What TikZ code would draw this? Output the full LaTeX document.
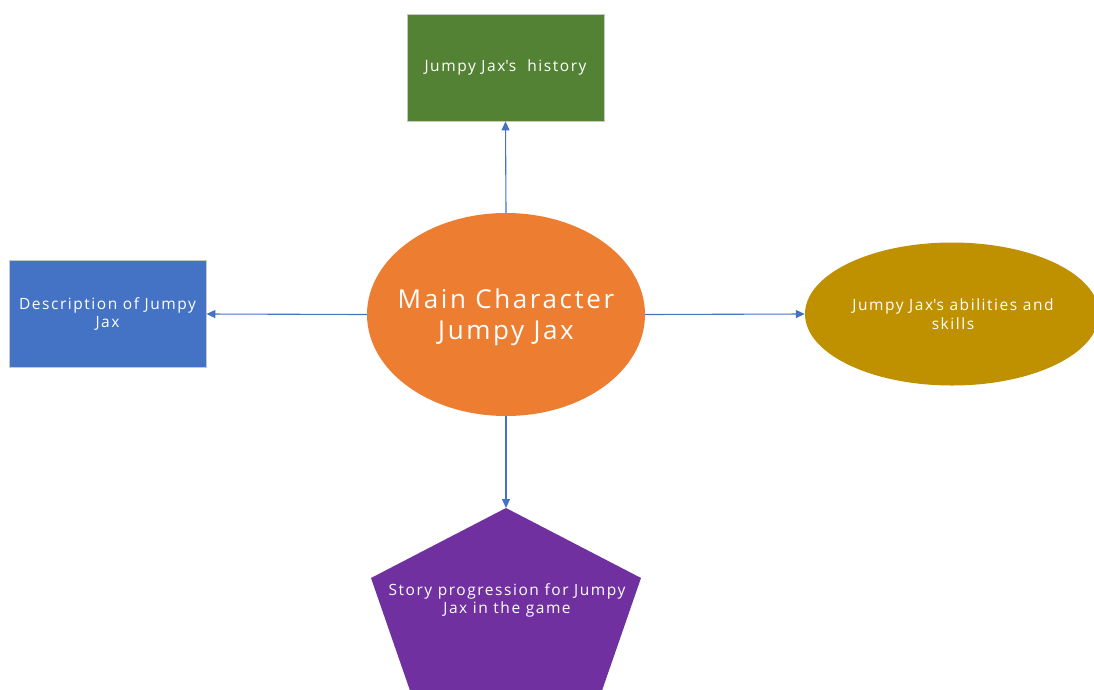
\documentclass[tikz,border=0pt]{standalone}
\usepackage{fontspec}
\setmainfont{Open Sans}[LetterSpace=10]
\usetikzlibrary{shapes.geometric,arrows.meta}
\definecolor{cgreen}{HTML}{548235}
\definecolor{cblue}{HTML}{4472C4}
\definecolor{corange}{HTML}{ED7D31}
\definecolor{cgold}{HTML}{BF9000}
\definecolor{cpurple}{HTML}{7030A0}
\definecolor{cedge}{HTML}{C8C8C8}
\begin{document}
\begin{tikzpicture}[x=1pt,y=-1pt,
  box/.style={rectangle,draw=cedge,line width=0.8pt,minimum width=197pt,minimum height=107pt,inner sep=0pt,text=white,align=center,font=\fontsize{15.5}{18.5}\selectfont},
  oval/.style={ellipse,inner sep=0pt},
  label/.style={text=white,align=center,font=\fontsize{15.5}{18.5}\selectfont},
  conn/.style={draw=cblue,line width=1.1pt,-{Triangle[length=9pt,width=8pt]}}]
\useasboundingbox (0,0) rectangle (1094,689);
\begin{scope}
\clip (0,0) rectangle (1094,689);
% nodes
\node[box,fill=cgreen] (hist) at (505.5,67.5) {Jumpy Jax\textquotesingle s\ \ history};
\node[box,fill=cblue] (desc) at (107.5,314) {Description of Jumpy\\Jax};
\node[oval,fill=corange,minimum width=278pt,minimum height=203pt] (main) at (506,314.5) {};
\node[label,font=\fontsize{26}{31}\selectfont] (maintext) at (506,317) {Main Character\\Jumpy Jax};
\node[oval,fill=cgold,minimum width=294pt,minimum height=143pt] (abil) at (952,314) {};
\node[label] (abiltext) at (953,314) {Jumpy Jax\textquotesingle s abilities and\\skills};
% pentagon
\fill[cpurple] (506,508) -- (641,578) -- (597,705) -- (415,705) -- (371,578) -- cycle;
\coordinate (pent) at (506,508);
\node[label] (story) at (507,600.5) {Story progression for Jumpy\\Jax in the game};
% connectors
\draw[conn] (main.north) -- (hist.south);
\draw[conn] (main.west) -- (desc.east);
\draw[conn] (main.east) -- (abil.west);
\draw[conn] (main.south) -- (pent);
\end{scope}
\end{tikzpicture}
\end{document}
